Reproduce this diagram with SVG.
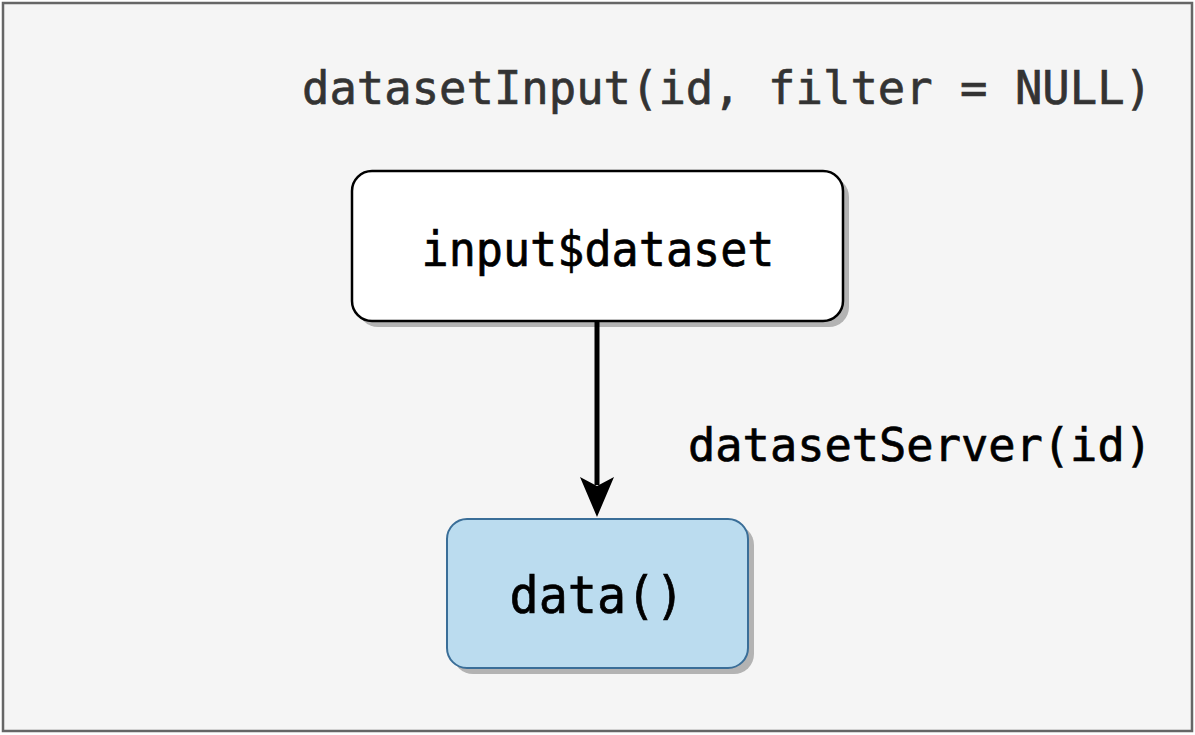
<svg xmlns="http://www.w3.org/2000/svg" width="1195" height="735" viewBox="0 0 1195 735">
  <style>
    .mono { font-family: "DejaVu Sans Mono", "Liberation Mono", monospace; stroke-width: 0.7; }
    .shadow { fill: #b3b3b3; }
  </style>
  <rect x="3" y="3" width="1189" height="728" fill="#f5f5f5" stroke="#666666" stroke-width="2.5"/>
  <text class="mono" x="302" y="104" font-size="47" fill="#333333" stroke="#333333" textLength="850" lengthAdjust="spacingAndGlyphs">datasetInput(id, filter = NULL)</text>

  <g id="node-input">
    <rect class="shadow" x="358" y="177" width="491" height="150" rx="20"/>
    <rect x="352" y="171" width="491" height="150" rx="20" fill="#ffffff" stroke="#000" stroke-width="2.5"/>
    <text class="mono" x="598" y="266" font-size="48" fill="#000" stroke="#000" text-anchor="middle" textLength="353" lengthAdjust="spacingAndGlyphs">input$dataset</text>
  </g>

  <g id="node-data">
    <rect class="shadow" x="453" y="525" width="301" height="149" rx="20"/>
    <rect x="447" y="519" width="301" height="149" rx="20" fill="#bbdcef" stroke="#3a6e98" stroke-width="2"/>
    <text class="mono" x="597" y="613" font-size="51" fill="#000" stroke="#000" text-anchor="middle" textLength="175" lengthAdjust="spacingAndGlyphs">data()</text>
  </g>

  <g id="connectors">
    <line x1="597" y1="322" x2="597" y2="485" stroke="#000" stroke-width="5"/>
    <path d="M580,477 L597,486 L614,477 L597,517 Z" fill="#000"/>
    <text class="mono" x="688" y="461" font-size="46" fill="#000" stroke="#000" textLength="464" lengthAdjust="spacingAndGlyphs">datasetServer(id)</text>
  </g>
</svg>
